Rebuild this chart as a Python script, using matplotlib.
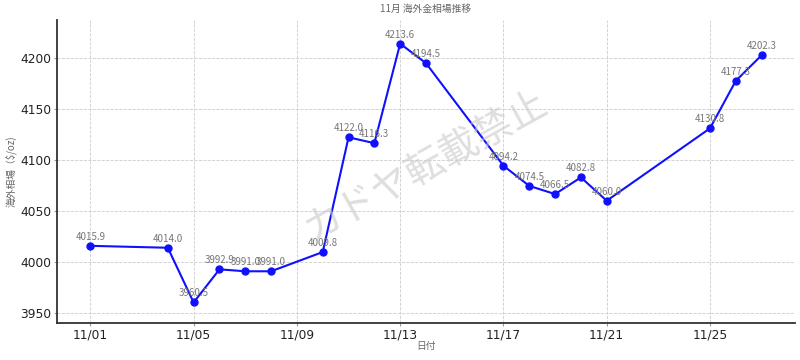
import pandas as pd
import matplotlib
matplotlib.use("Agg")
import matplotlib.pyplot as plt
import matplotlib.dates as mdates

plt.rcParams['font.family'] = ['DejaVu Sans', 'Noto Sans CJK JP']

# 11月の海外金相場
dates = ["2025-11-01", "2025-11-04", "2025-11-05", "2025-11-06", "2025-11-07",
         "2025-11-08", "2025-11-10", "2025-11-11", "2025-11-12", "2025-11-13",
         "2025-11-14", "2025-11-17", "2025-11-18", "2025-11-19", "2025-11-20",
         "2025-11-21", "2025-11-25", "2025-11-26", "2025-11-27"]
prices = [4015.9, 4014.0, 3960.5, 3992.9, 3991.0,
          3991.0, 4009.8, 4122.0, 4116.3, 4213.6,
          4194.5, 4094.2, 4074.5, 4066.5, 4082.8,
          4060.0, 4130.8, 4177.3, 4202.3]
tick_dates = ["2025-11-01", "2025-11-05", "2025-11-09", "2025-11-13",
              "2025-11-17", "2025-11-21", "2025-11-25"]

x = pd.to_datetime(dates)
cjk = ['Noto Sans CJK JP', 'DejaVu Sans']

fig = plt.figure(figsize=(8, 3.6), dpi=100)
ax = fig.add_axes([0.071, 0.103, 0.923, 0.841])

ax.plot(x, prices, color='#1010ff', lw=1.5, marker='o', ms=5)
for d, p in zip(x, prices):
    ax.annotate(f"{p:.1f}", (d, p), xytext=(0, 3), textcoords='offset points',
                ha='center', va='bottom', fontsize=7, color='#777777', family=cjk)

ax.set_ylim(min(prices) - 20, max(prices) + 23)
ax.set_xticks(pd.to_datetime(tick_dates))
ax.xaxis.set_major_formatter(mdates.DateFormatter('%m/%d'))
ax.set_yticks([3950, 4000, 4050, 4100, 4150, 4200])
ax.tick_params(labelsize=8.8, labelcolor='#222222', color='#999999', length=2, pad=2)
ax.grid(True, ls='--', lw=0.6, color='#cccccc')

ax.spines['top'].set_visible(False)
ax.spines['right'].set_visible(False)
for s in ['left', 'bottom']:
    ax.spines[s].set_linewidth(1.3)
    ax.spines[s].set_color('#333333')

ax.set_title("11月 海外金相場推移", fontsize=7, color='#666666', family=cjk)
ax.set_xlabel("日付", fontsize=7, color='#666666', family=cjk)
ax.set_ylabel("海外相場（$/oz)", fontsize=7, color='#666666', family=cjk)
ax.xaxis.set_label_coords(0.5, -0.06)
ax.yaxis.set_label_coords(-0.055, 0.5)

ax.text(0.5, 0.52, "カドヤ転載禁止", transform=ax.transAxes, fontsize=28,
        color='#c8c8c8', alpha=0.6, rotation=29, ha='center', va='center',
        family=cjk)

fig.savefig("out.png", dpi=100)
